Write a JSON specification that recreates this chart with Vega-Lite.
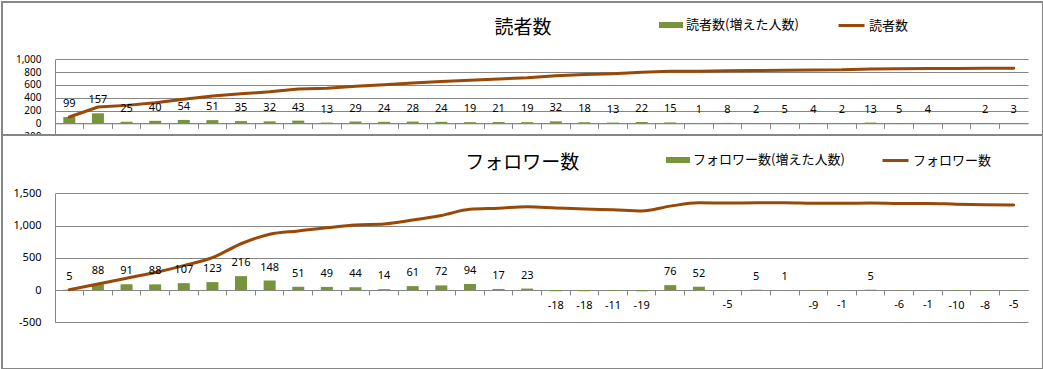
{
  "$schema": "https://vega.github.io/schema/vega-lite/v6.json",
  "padding": {"left": 1, "top": 1, "right": 0, "bottom": 0},
  "background": "white",
  "spacing": 0,
  "bounds": "flush",
  "config": {
    "view": {"stroke": "#868686", "strokeWidth": 2, "fill": "white"},
    "locale": {"number": {"decimal": ".", "thousands": ",", "grouping": [3], "currency": ["", ""], "minus": "-"}},
    "axis": {"labelFont": "Noto Sans", "labelFontSize": 11, "labelColor": "#000000", "domainColor": "#868686", "gridColor": "#868686", "tickColor": "#868686", "gridOpacity": 1, "domainWidth": 1, "gridWidth": 1, "labelOverlap": false},
    "legend": {"labelFont": "Noto Sans CJK JP", "labelFontSize": 13, "labelColor": "#000000", "padding": 0, "labelLimit": 300}
  },
  "datasets": {
    "reader": [
      {"i": 1, "inc": 99, "total": 99},
      {"i": 2, "inc": 157, "total": 256},
      {"i": 3, "inc": 25, "total": 281},
      {"i": 4, "inc": 40, "total": 321},
      {"i": 5, "inc": 54, "total": 375},
      {"i": 6, "inc": 51, "total": 426},
      {"i": 7, "inc": 35, "total": 461},
      {"i": 8, "inc": 32, "total": 493},
      {"i": 9, "inc": 43, "total": 536},
      {"i": 10, "inc": 13, "total": 549},
      {"i": 11, "inc": 29, "total": 578},
      {"i": 12, "inc": 24, "total": 602},
      {"i": 13, "inc": 28, "total": 630},
      {"i": 14, "inc": 24, "total": 654},
      {"i": 15, "inc": 19, "total": 673},
      {"i": 16, "inc": 21, "total": 694},
      {"i": 17, "inc": 19, "total": 713},
      {"i": 18, "inc": 32, "total": 745},
      {"i": 19, "inc": 18, "total": 763},
      {"i": 20, "inc": 13, "total": 776},
      {"i": 21, "inc": 22, "total": 798},
      {"i": 22, "inc": 15, "total": 813},
      {"i": 23, "inc": 1, "total": 814},
      {"i": 24, "inc": 8, "total": 822},
      {"i": 25, "inc": 2, "total": 824},
      {"i": 26, "inc": 5, "total": 829},
      {"i": 27, "inc": 4, "total": 833},
      {"i": 28, "inc": 2, "total": 835},
      {"i": 29, "inc": 13, "total": 848},
      {"i": 30, "inc": 5, "total": 853},
      {"i": 31, "inc": 4, "total": 857},
      {"i": 32, "inc": null, "total": 857},
      {"i": 33, "inc": 2, "total": 859},
      {"i": 34, "inc": 3, "total": 862}
    ],
    "follower": [
      {"i": 1, "inc": 5, "total": 5},
      {"i": 2, "inc": 88, "total": 93},
      {"i": 3, "inc": 91, "total": 184},
      {"i": 4, "inc": 88, "total": 272},
      {"i": 5, "inc": 107, "total": 379},
      {"i": 6, "inc": 123, "total": 502},
      {"i": 7, "inc": 216, "total": 718},
      {"i": 8, "inc": 148, "total": 866},
      {"i": 9, "inc": 51, "total": 917},
      {"i": 10, "inc": 49, "total": 966},
      {"i": 11, "inc": 44, "total": 1010},
      {"i": 12, "inc": 14, "total": 1024},
      {"i": 13, "inc": 61, "total": 1085},
      {"i": 14, "inc": 72, "total": 1157},
      {"i": 15, "inc": 94, "total": 1251},
      {"i": 16, "inc": 17, "total": 1268},
      {"i": 17, "inc": 23, "total": 1291},
      {"i": 18, "inc": -18, "total": 1273},
      {"i": 19, "inc": -18, "total": 1255},
      {"i": 20, "inc": -11, "total": 1244},
      {"i": 21, "inc": -19, "total": 1225},
      {"i": 22, "inc": 76, "total": 1301},
      {"i": 23, "inc": 52, "total": 1353},
      {"i": 24, "inc": -5, "total": 1348},
      {"i": 25, "inc": 5, "total": 1353},
      {"i": 26, "inc": 1, "total": 1354},
      {"i": 27, "inc": -9, "total": 1345},
      {"i": 28, "inc": -1, "total": 1344},
      {"i": 29, "inc": 5, "total": 1349},
      {"i": 30, "inc": -6, "total": 1343},
      {"i": 31, "inc": -1, "total": 1342},
      {"i": 32, "inc": -10, "total": 1332},
      {"i": 33, "inc": -8, "total": 1324},
      {"i": 34, "inc": -5, "total": 1319}
    ]
  },
  "vconcat": [
    {
      "width": 1041,
      "height": 133,
      "data": {"name": "reader"},
      "encoding": {
        "x": {"field": "i", "type": "ordinal", "scale": {"range": [53, 1026], "paddingInner": 0, "paddingOuter": 0},
              "axis": {"orient": "bottom", "offset": -11.7, "labels": false, "ticks": true, "tickSize": 5, "bandPosition": 0, "title": null, "grid": false}}
      },
      "layer": [
        {
          "mark": {"type": "bar", "size": 12},
          "encoding": {
            "y": {"field": "inc", "type": "quantitative",
                  "scale": {"domain": [-200, 1000], "range": [134.2, 57.3], "nice": false, "zero": false},
                  "axis": {"title": "読者数", "titleAngle": 0, "titleX": 467.5, "titleY": 25.7, "titleAlign": "center", "titleBaseline": "middle", "titleFont": "Noto Sans CJK JP", "titleFontSize": 19, "titleFontWeight": "normal", "titleColor": "#000000",
                           "offset": -53, "values": [-200, 0, 200, 400, 600, 800, 1000], "format": ",d", "grid": true, "ticks": false, "tickSize": 0, "labelPadding": 14, "labelOverlap": false, "labelFontSize": 10}},
            "fill": {"datum": "読者数(増えた人数)", "scale": {"range": ["#77933C"]},
                     "legend": {"title": null, "orient": "none", "legendX": 657, "legendY": 11, "direction": "horizontal", "symbolType": "M-1,-0.25H1V0.25H-1Z", "symbolSize": 576, "symbolStrokeWidth": 0, "labelOffset": 3}}
          }
        },
        {
          "mark": {"type": "line", "strokeWidth": 3, "interpolate": "linear", "strokeCap": "round"},
          "encoding": {
            "y": {"field": "total", "type": "quantitative",
                  "axis": {"title": "読者数", "titleAngle": 0, "titleX": 467.5, "titleY": 25.7, "titleAlign": "center", "titleBaseline": "middle", "titleFont": "Noto Sans CJK JP", "titleFontSize": 19, "titleFontWeight": "normal", "titleColor": "#000000",
                           "offset": -53, "values": [-200, 0, 200, 400, 600, 800, 1000], "format": ",d", "grid": true, "ticks": false, "tickSize": 0, "labelPadding": 14, "labelOverlap": false, "labelFontSize": 10}},
            "stroke": {"datum": "読者数", "scale": {"range": ["#984807"]},
                       "legend": {"title": null, "orient": "none", "legendX": 835, "legendY": 9, "direction": "horizontal", "symbolType": "stroke", "symbolSize": 676, "symbolStrokeWidth": 3, "labelOffset": 3}}
          }
        },
        {
          "transform": [{"filter": "isValid(datum.inc) && datum.inc > 0"}],
          "mark": {"type": "text", "dy": -13, "baseline": "middle", "font": "Noto Sans", "fontSize": 11, "color": "#000000"},
          "encoding": {
            "y": {"field": "inc", "type": "quantitative",
                  "axis": {"title": "読者数", "titleAngle": 0, "titleX": 467.5, "titleY": 25.7, "titleAlign": "center", "titleBaseline": "middle", "titleFont": "Noto Sans CJK JP", "titleFontSize": 19, "titleFontWeight": "normal", "titleColor": "#000000",
                           "offset": -53, "values": [-200, 0, 200, 400, 600, 800, 1000], "format": ",d", "grid": true, "ticks": false, "tickSize": 0, "labelPadding": 14, "labelOverlap": false, "labelFontSize": 10}},
            "text": {"field": "inc", "type": "quantitative", "format": "d"}
          }
        }
      ]
    },
    {
      "width": 1041,
      "height": 234,
      "data": {"name": "follower"},
      "encoding": {
        "x": {"field": "i", "type": "ordinal", "scale": {"range": [53, 1026], "paddingInner": 0, "paddingOuter": 0},
              "axis": {"orient": "bottom", "offset": -79, "labels": false, "ticks": true, "tickSize": 5, "bandPosition": 0, "title": null, "grid": false}}
      },
      "layer": [
        {
          "mark": {"type": "bar", "size": 12},
          "encoding": {
            "y": {"field": "inc", "type": "quantitative",
                  "scale": {"domain": [-500, 1500], "range": [187.3, 58.3], "nice": false, "zero": false},
                  "axis": {"title": "フォロワー数", "titleAngle": 0, "titleX": 466.8, "titleY": 27.7, "titleAlign": "center", "titleBaseline": "middle", "titleFont": "Noto Sans CJK JP", "titleFontSize": 19, "titleFontWeight": "normal", "titleColor": "#000000",
                           "offset": -53, "values": [-500, 0, 500, 1000, 1500], "format": ",d", "grid": true, "ticks": false, "tickSize": 0, "labelPadding": 14, "labelOverlap": false}},
            "fill": {"datum": "フォロワー数(増えた人数)", "scale": {"range": ["#77933C"]},
                     "legend": {"title": null, "orient": "none", "legendX": 664, "legendY": 13, "direction": "horizontal", "symbolType": "M-1,-0.25H1V0.25H-1Z", "symbolSize": 576, "symbolStrokeWidth": 0, "labelOffset": 3}}
          }
        },
        {
          "mark": {"type": "line", "strokeWidth": 3, "interpolate": "monotone", "strokeCap": "round"},
          "encoding": {
            "y": {"field": "total", "type": "quantitative",
                  "axis": {"title": "フォロワー数", "titleAngle": 0, "titleX": 466.8, "titleY": 27.7, "titleAlign": "center", "titleBaseline": "middle", "titleFont": "Noto Sans CJK JP", "titleFontSize": 19, "titleFontWeight": "normal", "titleColor": "#000000",
                           "offset": -53, "values": [-500, 0, 500, 1000, 1500], "format": ",d", "grid": true, "ticks": false, "tickSize": 0, "labelPadding": 14, "labelOverlap": false}},
            "stroke": {"datum": "フォロワー数", "scale": {"range": ["#984807"]},
                       "legend": {"title": null, "orient": "none", "legendX": 879, "legendY": 11, "direction": "horizontal", "symbolType": "stroke", "symbolSize": 676, "symbolStrokeWidth": 3, "labelOffset": 3}}
          }
        },
        {
          "transform": [{"filter": "datum.inc > 0"}],
          "mark": {"type": "text", "dy": -13, "baseline": "middle", "font": "Noto Sans", "fontSize": 11, "color": "#000000"},
          "encoding": {
            "y": {"field": "inc", "type": "quantitative",
                  "axis": {"title": "フォロワー数", "titleAngle": 0, "titleX": 466.8, "titleY": 27.7, "titleAlign": "center", "titleBaseline": "middle", "titleFont": "Noto Sans CJK JP", "titleFontSize": 19, "titleFontWeight": "normal", "titleColor": "#000000",
                           "offset": -53, "values": [-500, 0, 500, 1000, 1500], "format": ",d", "grid": true, "ticks": false, "tickSize": 0, "labelPadding": 14, "labelOverlap": false}},
            "text": {"field": "inc", "type": "quantitative", "format": "d"}
          }
        },
        {
          "transform": [{"filter": "datum.inc < 0"}],
          "mark": {"type": "text", "dy": 15, "baseline": "middle", "font": "Noto Sans", "fontSize": 11, "color": "#000000"},
          "encoding": {
            "y": {"field": "inc", "type": "quantitative",
                  "axis": {"title": "フォロワー数", "titleAngle": 0, "titleX": 466.8, "titleY": 27.7, "titleAlign": "center", "titleBaseline": "middle", "titleFont": "Noto Sans CJK JP", "titleFontSize": 19, "titleFontWeight": "normal", "titleColor": "#000000",
                           "offset": -53, "values": [-500, 0, 500, 1000, 1500], "format": ",d", "grid": true, "ticks": false, "tickSize": 0, "labelPadding": 14, "labelOverlap": false}},
            "text": {"field": "inc", "type": "quantitative", "format": "d"}
          }
        }
      ]
    }
  ],
  "resolve": {
    "scale": {"x": "independent", "y": "independent", "fill": "independent", "stroke": "independent"},
    "legend": {"fill": "independent", "stroke": "independent"}
  }
}
